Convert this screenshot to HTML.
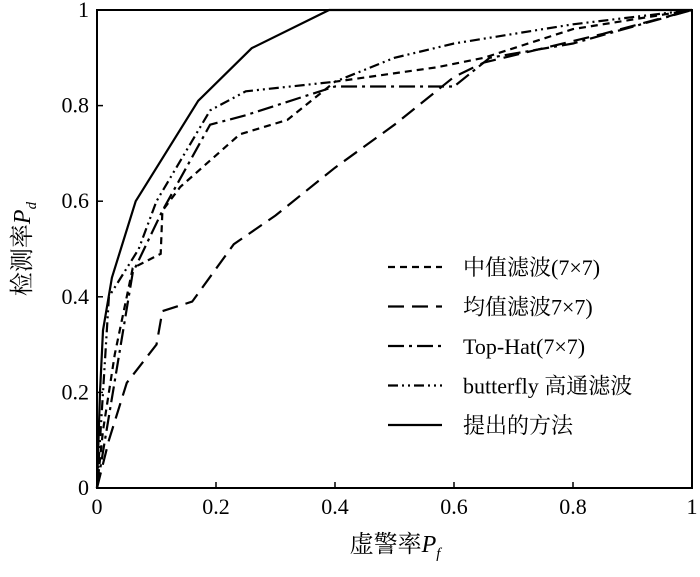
<!DOCTYPE html>
<html><head><meta charset="utf-8"><style>
body{margin:0;background:#fff;}
svg text{font-family:"Liberation Serif","Noto Serif CJK SC",serif;fill:#000;}
</style></head><body>
<svg id="chart" width="700" height="572" xmlns="http://www.w3.org/2000/svg">
<g id="plot"></g>
</svg>
<script>
const xTicks=[0,0.2,0.4,0.6,0.8,1];
const yTicks=[0,0.2,0.4,0.6,0.8,1];
const xTickLabels=["0","0.2","0.4","0.6","0.8","1"];
const yTickLabels=["0","0.2","0.4","0.6","0.8","1"];
const seriesNames=["中值滤波(7×7)","均值滤波7×7)","Top-Hat(7×7)","butterfly 高通滤波","提出的方法"];
const medianX=[0,0.01,0.02,0.03,0.06,0.107,0.11,0.14,0.24,0.32,0.4,0.57,0.65,0.8,1];
const medianY=[0,0.12,0.2,0.28,0.46,0.49,0.58,0.63,0.74,0.77,0.85,0.88,0.9,0.96,1];
const meanX=[0,0.02,0.05,0.1,0.11,0.16,0.23,0.3,0.4,0.5,0.6,0.65,0.85,1];
const meanY=[0,0.1,0.22,0.3,0.37,0.39,0.51,0.57,0.67,0.76,0.86,0.89,0.95,1];
const tophatX=[0,0.02,0.04,0.06,0.11,0.19,0.25,0.4,0.6,0.66,0.8,1];
const tophatY=[0,0.15,0.3,0.45,0.58,0.76,0.78,0.84,0.84,0.9,0.93,1];
const butterflyX=[0,0.01,0.02,0.07,0.1,0.19,0.25,0.4,0.5,0.6,0.8,1];
const butterflyY=[0,0.2,0.4,0.5,0.6,0.79,0.83,0.85,0.9,0.93,0.97,1];
const proposedX=[0,0.005,0.01,0.025,0.065,0.17,0.26,0.39,1];
const proposedY=[0,0.2,0.33,0.44,0.6,0.81,0.92,1,1];

const X0=97,X1=692,Y0=488,Y1=10;
const sx=v=>X0+v*(X1-X0);
const sy=v=>Y0-v*(Y0-Y1);
const NS="http://www.w3.org/2000/svg";
const svg=document.getElementById('chart');
function mk(tag,attrs,parent){const e=document.createElementNS(NS,tag);for(const k in attrs)e.setAttribute(k,attrs[k]);(parent||svg).appendChild(e);return e;}

const frame=mk('rect',{x:X0,y:Y1,width:X1-X0,height:Y0-Y1,fill:'none',stroke:'#000','stroke-width':2});



xTicks.forEach((t,i)=>{
  const l=mk('line',{x1:sx(t),x2:sx(t),y1:Y0,y2:Y0-6,stroke:'#000','stroke-width':1.5});
  
  
  const tx=mk('text',{x:sx(t),y:Y0+26,'text-anchor':'middle','font-size':22});
  tx.textContent=xTickLabels[i];
  
  
});
yTicks.forEach((t,i)=>{
  const l=mk('line',{x1:X0,x2:X0+6,y1:sy(t),y2:sy(t),stroke:'#000','stroke-width':1.5});
  
  
  const tx=mk('text',{x:X0-8,y:sy(t)+7,'text-anchor':'end','font-size':22});
  tx.textContent=yTickLabels[i];
  
  
});

const xt=mk('text',{x:395,y:552,'text-anchor':'middle','font-size':24});
xt.innerHTML='虚警率<tspan font-style="italic">P</tspan><tspan font-style="italic" font-size="15" dy="6">f</tspan>';


const yt=mk('text',{x:0,y:0,'text-anchor':'middle','font-size':24,transform:'translate(30,249) rotate(-90)'});
yt.innerHTML='检测率<tspan font-style="italic">P</tspan><tspan font-style="italic" font-size="15" dy="6">d</tspan>';



const dashes=["7,5","16,8","16,5,3,5","10,4,2,4,2,4",""];
const allX=[medianX,meanX,tophatX,butterflyX,proposedX];
const allY=[medianY,meanY,tophatY,butterflyY,proposedY];
const ids=['median-filter','mean-filter','top-hat','butterfly','proposed'];
allX.forEach((xs,k)=>{
  const d=xs.map((v,i)=>(i?'L':'M')+sx(v).toFixed(1)+','+sy(allY[k][i]).toFixed(1)).join(' ');
  const p=mk('path',{d:d,fill:'none',stroke:'#000','stroke-width':2.2,'stroke-dasharray':dashes[k]});
  
  
  const ly=267+k*39.5;
  const ll=mk('line',{x1:388,x2:442,y1:ly,y2:ly,stroke:'#000','stroke-width':2.2,'stroke-dasharray':dashes[k]});
  
  
  const lt=mk('text',{x:463,y:ly+8,'font-size':22});
  lt.textContent=seriesNames[k];
  
  
});
</script>
</body></html>
